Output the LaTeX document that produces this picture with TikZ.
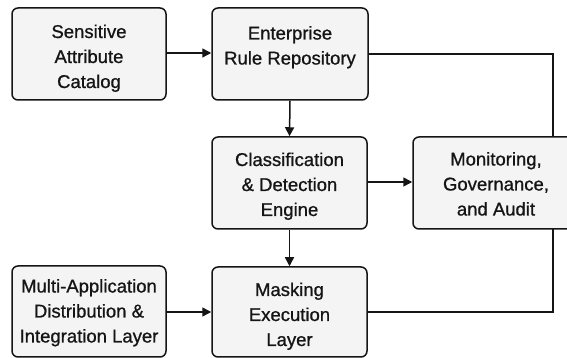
\documentclass[tikz,border=0pt]{standalone}
\usepackage{fontspec}
\setmainfont{Liberation Sans}
\newfontfamily\medfont{Liberation Sans}[FakeBold=0.9]
\usetikzlibrary{arrows.meta}
\definecolor{boxfill}{HTML}{F4F4F4}
\definecolor{ink}{HTML}{151515}
\newcommand\btxt[2]{\raisebox{#1}[\height][\depth]{\begin{tabular}{@{}c@{}}#2\end{tabular}}}
\tikzset{
  blk/.style={draw=ink, fill=boxfill, line width=1.5pt, rounded corners=6pt,
    inner sep=0pt, font=\medfont\fontsize{18.5}{25}\selectfont, text=ink},
  conn/.style={draw=ink, line width=1.5pt},
  arr/.style={conn, -{Triangle[length=9pt,width=9pt]}}
}
\begin{document}
\begin{tikzpicture}[x=1pt,y=1pt]
\useasboundingbox (0,0) rectangle (567,358);
\clip (0,0) rectangle (567,358);
\fill[white] (0,0) rectangle (567,358);
\coordinate (rt) at (553,304);
\coordinate (rb) at (553,46);
\node[blk, minimum width=154pt, minimum height=92pt] (sac) at (89,304) {\btxt{-4pt}{Sensitive\\Attribute\\Catalog}};
\node[blk, minimum width=156pt, minimum height=92pt] (err) at (290,304) {\btxt{7pt}{Enterprise\\Rule Repository}};
\node[blk, minimum width=155pt, minimum height=92pt] (cde) at (289.5,175) {\btxt{-3pt}{Classification\\\&\ Detection\\Engine}};
\node[blk, minimum width=154pt, minimum height=91pt] (mad) at (89,46.5) {\btxt{-1pt}{Multi-Application\\Distribution \&\\Integration Layer}};
\node[blk, minimum width=155pt, minimum height=90pt] (mel) at (289.5,46) {\btxt{-4pt}{Masking\\Execution\\Layer}};
\draw[conn] (err.east |- rt) -- (rt) -- (rb) -- (mel.east |- rb);
\node[blk, minimum width=166pt, minimum height=92pt] (mga) at (496,175) {\btxt{-2.5pt}{Monitoring,\\Governance,\\and Audit}};
\draw[arr] (sac.east |- 0,305) -- (err.west |- 0,305);
\draw[arr] (err.south) -- (cde.north);
\draw[arr] (cde.east |- 0,176) -- (mga.west |- 0,176);
\draw[arr] (cde.south) -- (mel.north);
\draw[arr] (mad.east |- 0,46) -- (mel.west |- 0,46);
\end{tikzpicture}
\end{document}
